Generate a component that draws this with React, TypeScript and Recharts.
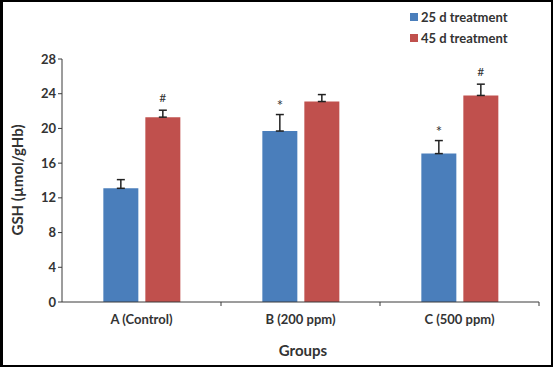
import React from 'react';
import { BarChart, Bar, XAxis, YAxis, ErrorBar, LabelList } from 'recharts';

const groups = ['A (Control)', 'B (200 ppm)', 'C (500 ppm)'];
const d25 = [13.1, 19.7, 17.1];
const d25Err = [1.0, 1.9, 1.5];
const d25Mark = ['', '*', '*'];
const d45 = [21.3, 23.1, 23.8];
const d45Err = [0.8, 0.8, 1.3];
const d45Mark = ['#', '', '#'];
const yTicks = [0, 4, 8, 12, 16, 20, 24, 28];

const BLUE = '#4a7ebb';
const RED = '#c0504d';
const AXIS = '#3a3a3a';
const FONT = 'Lato, "Open Sans", sans-serif';

const data = groups.map((g, i) => ({
  group: g,
  d25: d25[i],
  d25Err: [0, d25Err[i]],
  d25Mark: d25Mark[i],
  d45: d45[i],
  d45Err: [0, d45Err[i]],
  d45Mark: d45Mark[i],
}));

const W = 553;
const H = 367;
const margin = { top: 59, right: 14, left: 22, bottom: 35 };
const yAxisW = 40;
const plotLeft = margin.left + yAxisW;
const plotW = W - plotLeft - margin.right;
const catW = plotW / groups.length;

// marks (* / #) sit above the error bar cap
function markLabel(errs: number[], marks: string[]) {
  return (props: any) => {
    const { x, y, width, height, value, index } = props;
    const mark = marks[index];
    if (!mark) return null;
    const pxPerUnit = height / value;
    const top = y - errs[index] * pxPerUnit;
    return (
      <text
        x={x + width / 2}
        y={top - (mark === '*' ? 4 : 8)}
        textAnchor="middle"
        fontSize={mark === '*' ? 15 : 12}
        fill="#333"
        fontFamily={FONT}
      >
        {mark}
      </text>
    );
  };
}

function GroupTick(props: any) {
  const { x, y, payload } = props;
  return (
    <g>
      <line x1={x + catW / 2} y1={y - 8} x2={x + catW / 2} y2={y - 4} stroke={AXIS} />
      <text x={x} y={y + 14} textAnchor="middle" fontSize={13} fontWeight={700} fill="#333" fontFamily={FONT}>
        {payload.value}
      </text>
    </g>
  );
}

function Legend() {
  const items = [
    { label: '25 d treatment', color: BLUE },
    { label: '45 d treatment', color: RED },
  ];
  return (
    <div style={{ position: 'absolute', left: 407, top: 4, fontFamily: FONT, fontWeight: 700, fontSize: 13, color: '#333' }}>
      {items.map((it) => (
        <div key={it.label} style={{ display: 'flex', alignItems: 'center', height: 21 }}>
          <span style={{ width: 8, height: 8, background: it.color, marginRight: 3 }} />
          <span>{it.label}</span>
        </div>
      ))}
    </div>
  );
}

export default function App() {
  return (
    <div
      style={{
        position: 'absolute',
        left: 0,
        top: 0,
        width: W,
        height: H,
        background: '#fff',
        border: '2px solid #000',
        borderLeftWidth: 3,
        boxSizing: 'border-box',
        overflow: 'hidden',
      }}
    >
      <div style={{ position: 'absolute', left: -3, top: -2 }}>
        <BarChart width={W} height={H} data={data} margin={margin} barCategoryGap="26%" barGap={7}>
          <XAxis
            dataKey="group"
            stroke={AXIS}
            tickLine={false}
            tick={<GroupTick />}
            height={30}
            interval={0}
          />
          <YAxis
            domain={[0, 28]}
            ticks={yTicks}
            width={yAxisW}
            stroke={AXIS}
            tickSize={4}
            tick={{ fontSize: 13, fontWeight: 700, fill: '#333', fontFamily: FONT }}
          />
          <Bar dataKey="d25" fill={BLUE} isAnimationActive={false}>
            <ErrorBar dataKey="d25Err" width={4} stroke="#222" strokeWidth={1.5} direction="y" />
            <LabelList dataKey="d25" content={markLabel(d25Err, d25Mark)} />
          </Bar>
          <Bar dataKey="d45" fill={RED} isAnimationActive={false}>
            <ErrorBar dataKey="d45Err" width={4} stroke="#222" strokeWidth={1.5} direction="y" />
            <LabelList dataKey="d45" content={markLabel(d45Err, d45Mark)} />
          </Bar>
          <text
            transform="translate(23,180) rotate(-90)"
            textAnchor="middle"
            fontSize={15}
            fontWeight={700}
            fill="#333"
            fontFamily={FONT}
          >
            GSH (µmol/gHb)
          </text>
          <text x={303} y={356} textAnchor="middle" fontSize={15} fontWeight={700} fill="#333" fontFamily={FONT}>
            Groups
          </text>
        </BarChart>
      </div>
      <Legend />
    </div>
  );
}
